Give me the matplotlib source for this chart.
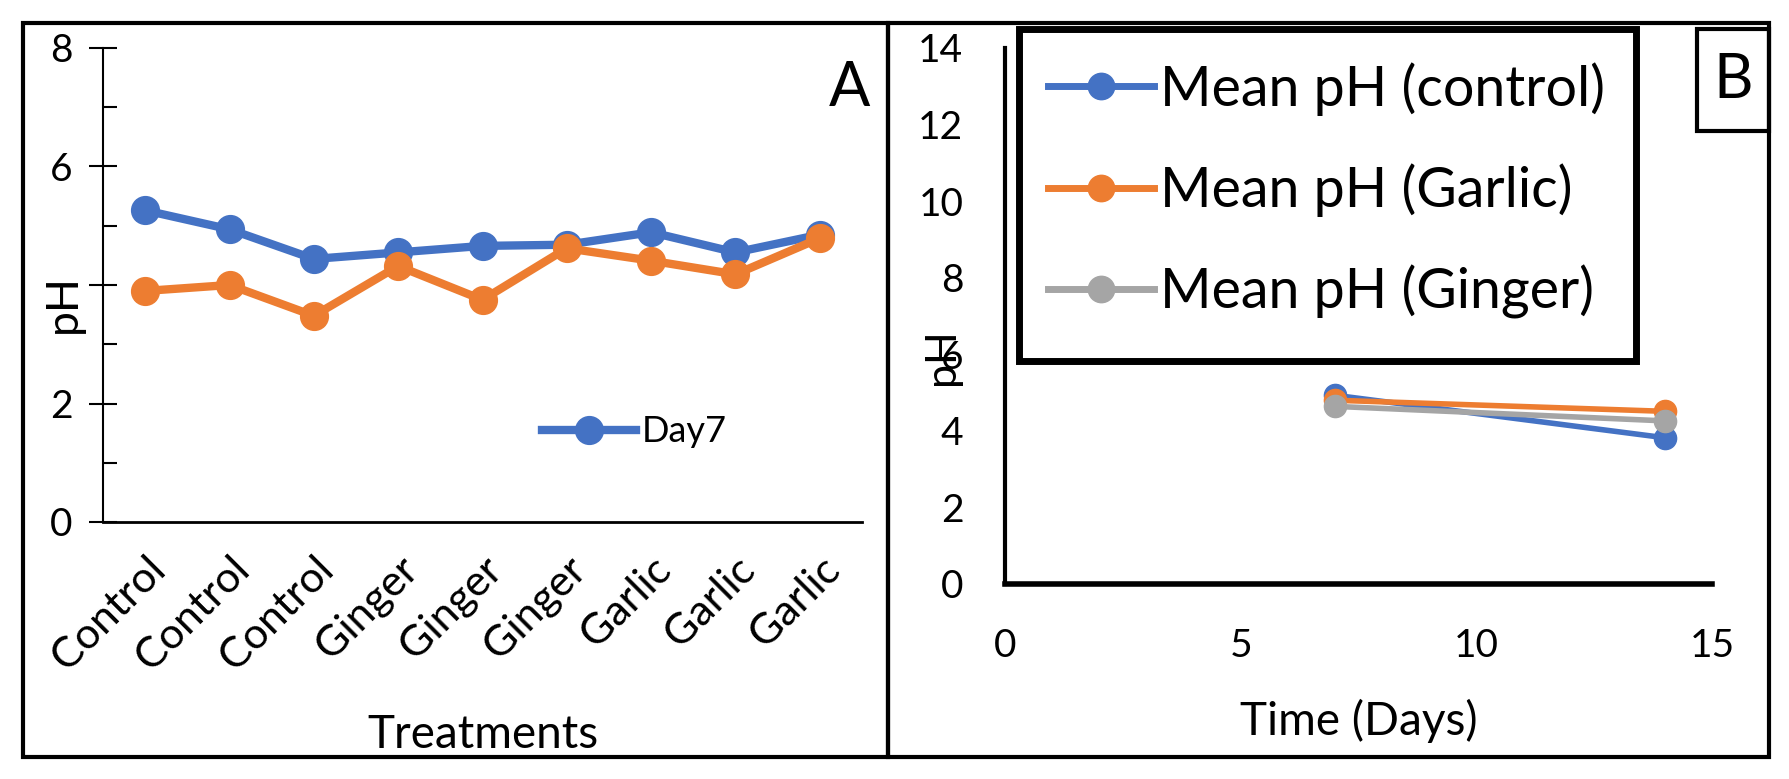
import numpy as np
import matplotlib.pyplot as plt
from matplotlib.patches import Rectangle
from matplotlib.lines import Line2D

plt.rcParams['font.family'] = ['Lato', 'DejaVu Sans']

# panel A data
treatments = ['Control', 'Control', 'Control', 'Ginger', 'Ginger', 'Ginger',
              'Garlic', 'Garlic', 'Garlic']
day7 = [5.26, 4.94, 4.44, 4.55, 4.66, 4.68, 4.89, 4.55, 4.85]
day14 = [3.90, 4.00, 3.48, 4.32, 3.75, 4.62, 4.41, 4.18, 4.79]

# panel B data
days = [7, 14]
mean_control = [4.93, 3.82]
mean_garlic = [4.80, 4.51]
mean_ginger = [4.64, 4.26]
labels_b = ['Mean pH (control)', 'Mean pH (Garlic)', 'Mean pH (Ginger)']

BLUE = '#4472C4'
ORANGE = '#ED7D31'
GREY = '#A5A5A5'

W, H = 1790, 779
fig = plt.figure(figsize=(W / 100, H / 100), dpi=100)

def fx(px):
    return px / W

def fy(py):
    return 1 - py / H

def box(x0, y0, x1, y1, lw):
    fig.patches.append(Rectangle((fx(x0), fy(y1)), fx(x1 - x0), (y1 - y0) / H,
                                 transform=fig.transFigure, fill=False,
                                 lw=lw, ec='black'))

# outer frames
box(23, 23, 888, 757, 3)
box(888, 23, 1769, 757, 3)

# ---- panel A
axA = fig.add_axes([fx(103), fy(522), fx(862 - 103), (522 - 48) / H])
x = np.arange(len(treatments))
axA.plot(x, day7, '-o', color=BLUE, lw=6, ms=20, label='Day7')
axA.plot(x, day14, '-o', color=ORANGE, lw=6, ms=20, label='_nolegend_')
axA.set_xlim(-0.5, 8.5)
axA.set_ylim(0, 8)
axA.set_yticks([0, 2, 4, 6, 8])
axA.set_yticklabels(['0', '2', '', '6', '8'])
axA.set_yticks([1, 3, 5, 7], minor=True)
axA.tick_params(axis='y', which='major', direction='inout', length=20, width=1.5,
                labelsize=28, pad=12)
axA.tick_params(axis='y', which='minor', direction='in', length=10, width=1.5)
axA.set_xticks(x)
axA.set_xticklabels(treatments, rotation=45, ha='right', rotation_mode='anchor')
axA.tick_params(axis='x', length=0, labelsize=31, pad=20)
for s in ['top', 'right']:
    axA.spines[s].set_visible(False)
axA.spines['left'].set_linewidth(1.5)
axA.spines['bottom'].set_linewidth(2)
axA.set_ylabel('pH', fontsize=32)
axA.yaxis.set_label_coords(-0.025, 0.46)
axA.set_xlabel('Treatments', fontsize=33)
axA.xaxis.set_label_coords(0.5, -0.405)
axA.legend(loc='center', bbox_to_anchor=(0.70, 0.19), frameon=False,
           fontsize=26, handlelength=2.6, handletextpad=0.15)
fig.text(fx(870), fy(89), 'A', fontsize=44, ha='right', va='center')

# ---- panel B
axB = fig.add_axes([fx(1005), fy(584), fx(1712 - 1005), (584 - 48) / H])
colors_b = [BLUE, ORANGE, GREY]
for yv, c, lab in zip([mean_control, mean_garlic, mean_ginger], colors_b, labels_b):
    axB.plot(days, yv, '-o', color=c, lw=4, ms=16, label=lab)
axB.set_xlim(0, 15)
axB.set_ylim(0, 14)
axB.set_yticks(np.arange(0, 15, 2))
axB.set_xticks([0, 5, 10, 15])
axB.tick_params(length=0, labelsize=28)
axB.tick_params(axis='y', pad=30)
axB.tick_params(axis='x', pad=32)
for s in ['top', 'right']:
    axB.spines[s].set_visible(False)
axB.spines['left'].set_linewidth(3)
axB.spines['bottom'].set_linewidth(4)
axB.set_ylabel('pH', fontsize=31)
axB.yaxis.set_label_coords(-0.062, 0.425)
axB.set_xlabel('Time (Days)', fontsize=33)
axB.xaxis.set_label_coords(0.5, -0.215)

# legend of panel B with its own thick frame
box(1019, 29, 1636, 361, 5)
leg_handles = [Line2D([], [], color=c, lw=5, marker='o', ms=19) for c in colors_b]
fig.legend(handles=leg_handles, labels=labels_b, loc='upper left',
           bbox_to_anchor=(fx(1048), fy(62)),
           fontsize=40, frameon=False, handlelength=1.9, handletextpad=0.12,
           labelspacing=0.86, borderpad=0, borderaxespad=0)

box(1697, 29, 1769, 131, 3)
fig.text(fx(1733), fy(80), 'B', fontsize=44, ha='center', va='center')

fig.savefig('out.png', dpi=100)
